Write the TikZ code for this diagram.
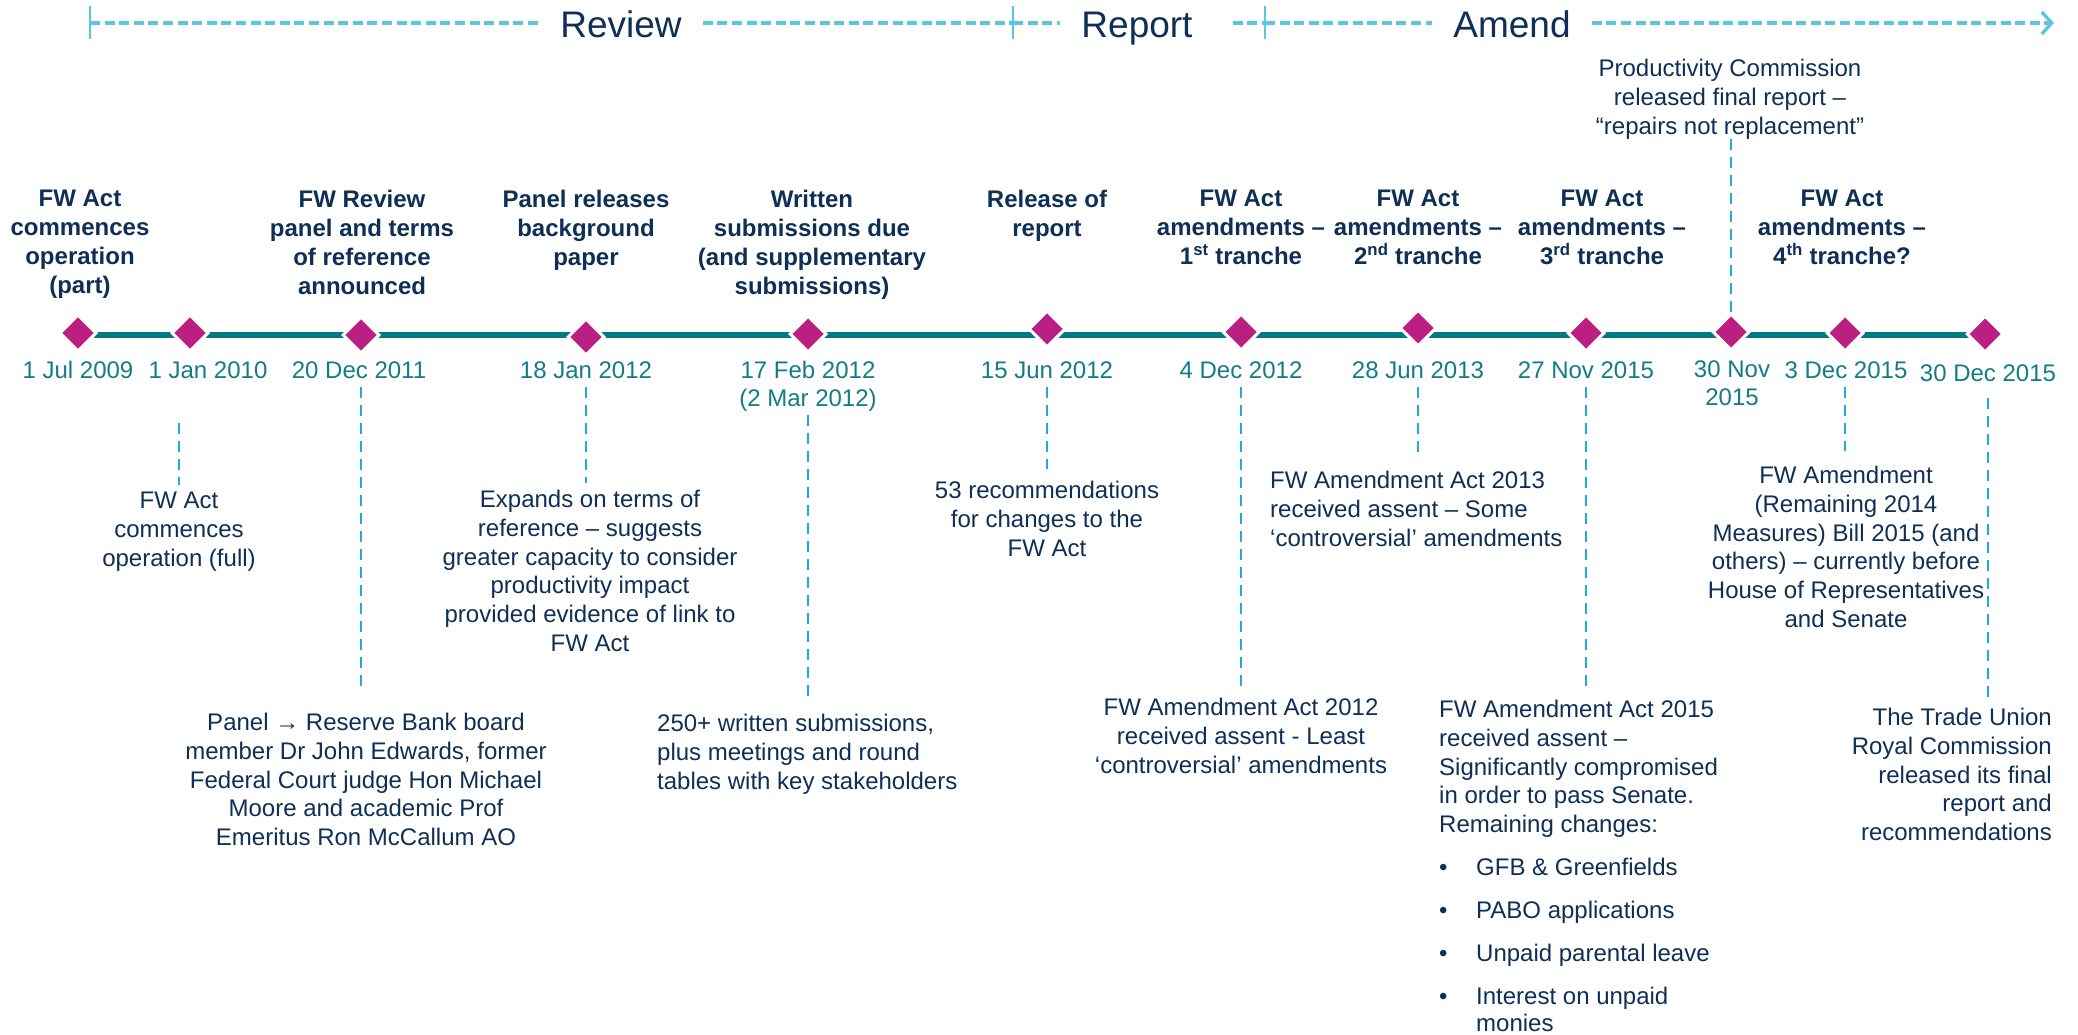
\documentclass[tikz,border=0pt]{standalone}
\usepackage{fontspec}
\setmainfont{Liberation Sans}
\usetikzlibrary{shapes.geometric,arrows.meta}
\definecolor{navy}{HTML}{0E2F56}
\definecolor{dateteal}{HTML}{137C87}
\definecolor{lineteal}{HTML}{007B84}
\definecolor{mag}{HTML}{BC1F82}
\definecolor{conncol}{HTML}{1FA9DC}
\definecolor{phasecol}{HTML}{5BC6E0}
\begin{document}
\begin{tikzpicture}[x=1pt,y=-1pt,
  body/.style={inner sep=0pt, text=navy, font=\fontsize{24pt}{28.8pt}\selectfont},
  head/.style={inner sep=0pt, text=navy, font=\fontsize{24pt}{29pt}\selectfont\bfseries, align=center, anchor=north},
  datelab/.style={inner sep=0pt, text=dateteal, font=\fontsize{24pt}{28pt}\selectfont, anchor=north, text height=17.5pt, text depth=5pt},
  datelabtwo/.style={inner sep=0pt, text=dateteal, font=\fontsize{24pt}{28pt}\selectfont, anchor=north, align=center},
  dia/.style={diamond, fill=mag, draw=white, line width=3pt, minimum width=37pt, minimum height=37pt, inner sep=0pt},
  tl/.style={draw=lineteal, line width=6pt},
  conn/.style={draw=conncol, line width=2.5pt, dash pattern=on 11pt off 7pt},
  phase/.style={draw=phasecol, line width=3.3pt, dash pattern=on 10pt off 4.6pt},
  phasetick/.style={draw=phasecol, line width=2.6pt},
  phaselab/.style={text=navy, font=\fontsize{37pt}{40pt}\selectfont, inner xsep=21pt, inner ysep=0pt, anchor=base},
]
\fill[white] (0,0) rectangle (2078,1035);
\useasboundingbox (0,0) rectangle (2078,1035);

% ---------- phase bar ----------
\coordinate (t1) at (90,23);
\coordinate (t2) at (1013,23);
\coordinate (t3) at (1265,23);
\coordinate (tend) at (2054,23);
\node[phaselab] (rev) at (621,38) {Review};
\node[phaselab] (rep) at (1137,38) {Report};
\node[phaselab] (ame) at (1512,38) {Amend};
\draw[phase] (t1) -- (t1 -| rev.west);
\draw[phase] (rev.east |- t1) -- (t2);
\draw[phase] (t2) -- (t2 -| rep.west);
\draw[phase, shorten <=19pt] (rep.east |- t2) -- (t3);
\draw[phase] (t3) -- (t3 -| ame.west);
\draw[phase, -{Straight Barb[length=10pt,width=22pt]}] (ame.east |- t3) -- (tend);
\draw[phasetick] ([yshift=17pt]t1) -- ([yshift=-16pt]t1);
\draw[phasetick] ([yshift=17pt]t2) -- ([yshift=-16pt]t2);
\draw[phasetick] ([yshift=17pt]t3) -- ([yshift=-16pt]t3);

% ---------- timeline ----------
\coordinate (p1) at (78,335);
\coordinate (p12) at (1985,335);
\draw[tl] (p1) -- (p12);
\node[dia] (D1) at (78,333) {};
\node[dia] (D2) at (190,333) {};
\node[dia] (D3) at (361,335) {};
\node[dia] (D4) at (586,337) {};
\node[dia] (D5) at (808,334) {};
\node[dia] (D6) at (1047,329) {};
\node[dia] (D7) at (1241,332) {};
\node[dia] (D8) at (1418,328) {};
\node[dia] (D9) at (1586,333) {};
\node[dia] (D10) at (1731,332) {};
\node[dia] (D11) at (1845,333) {};
\node[dia] (D12) at (1985,334) {};

% ---------- headings ----------
\node[head] (h1) at (80,190) {FW Act\\commences\\operation\\(part)};
\node[head] (h3) at (362,190) {FW Review\\panel and terms\\of reference\\announced};
\node[head] (h4) at (586,190) {Panel releases\\background\\paper};
\node[head] (h5) at (812,190) {Written\\submissions due\\(and supplementary\\submissions)};
\node[head] (h6) at (1047,190) {Release of\\report};
\node[head] (h7) at (1241,190) {FW Act\\amendments –\\1\textsuperscript{st} tranche};
\node[head] (h8) at (1418,190) {FW Act\\amendments –\\2\textsuperscript{nd} tranche};
\node[head] (h9) at (1602,190) {FW Act\\amendments –\\3\textsuperscript{rd} tranche};
\node[head] (h11) at (1842,190) {FW Act\\amendments –\\4\textsuperscript{th} tranche?};

% ---------- dates ----------
\node[datelab] (d1) at (78,361) {1 Jul 2009};
\node[datelab] (d2) at (208,361) {1 Jan 2010};
\node[datelab] (d3) at (359,361) {20 Dec 2011};
\node[datelab] (d4) at (586,361) {18 Jan 2012};
\node[datelabtwo] (d5) at (808,361) {17 Feb 2012\\(2 Mar 2012)};
\node[datelab] (d6) at (1047,361) {15 Jun 2012};
\node[datelab] (d7) at (1241,361) {4 Dec 2012};
\node[datelab] (d8) at (1418,361) {28 Jun 2013};
\node[datelab] (d9) at (1586,361) {27 Nov 2015};
\node[datelabtwo] (d10) at (1732,361) {30 Nov\\2015};
\node[datelab] (d11) at (1846,361) {3 Dec 2015};
\node[datelab] (d12) at (1988,364) {30 Dec 2015};

% ---------- descriptions ----------
\node[body, anchor=north, align=center] (desc2) at (179,492) {FW Act\\commences\\operation (full)};
\node[body, anchor=north, align=center] (desc3) at (366,713) {Panel → Reserve Bank board\\member Dr John Edwards, former\\Federal Court judge Hon Michael\\Moore and academic Prof\\Emeritus Ron McCallum AO};
\node[body, anchor=north, align=center] (desc4) at (590,490) {Expands on terms of\\reference – suggests\\greater capacity to consider\\productivity impact\\provided evidence of link to\\FW Act};
\node[body, anchor=north west, align=left] (desc5) at (657,714) {250+ written submissions,\\plus meetings and round\\tables with key stakeholders};
\node[body, anchor=north, align=center] (desc6) at (1047,481) {53 recommendations\\for changes to the\\FW Act};
\node[body, anchor=north, align=center] (desc7) at (1241,698) {FW Amendment Act 2012\\received assent - Least\\‘controversial’ amendments};
\node[body, anchor=north west, align=left] (desc8) at (1270,471) {FW Amendment Act 2013\\received assent – Some\\‘controversial’ amendments};
\node[body, anchor=north west, align=left] (desc9) at (1439,700) {FW Amendment Act 2015\\received assent –\\Significantly compromised\\in order to pass Senate.\\Remaining changes:\\[14.2pt]\makebox[37pt][l]{•}GFB \& Greenfields\\[14.2pt]\makebox[37pt][l]{•}PABO applications\\[14.2pt]\makebox[37pt][l]{•}Unpaid parental leave\\[14.2pt]\makebox[37pt][l]{•}Interest on unpaid\\[-1.8pt]\hspace*{37pt}monies};
\node[body, anchor=north, align=center] (prod) at (1730,59) {Productivity Commission\\released final report –\\“repairs not replacement”};
\node[body, anchor=north, align=center] (desc11) at (1846,466) {FW Amendment\\(Remaining 2014\\Measures) Bill 2015 (and\\others) – currently before\\House of Representatives\\and Senate};
\node[body, anchor=north east, align=right] (desc12) at (2052,708) {The Trade Union\\Royal Commission\\released its final\\report and\\recommendations};

% ---------- connectors ----------
\draw[conn, shorten <=39pt, shorten >=7pt] (desc2.north |- d2.south) -- (desc2.north);
\draw[conn, shorten <=3.5pt, shorten >=20pt] (D3 |- d3.south) -- (D3 |- desc3.north);
\draw[conn, shorten <=3.5pt, shorten >=7pt] (D4 |- d4.south) -- (D4 |- desc4.north);
\draw[conn, shorten <=3.5pt, shorten >=12pt] (D5 |- d5.south) -- (D5 |- desc5.north);
\draw[conn, shorten <=3.5pt, shorten >=12pt] (D6 |- d6.south) -- (D6 |- desc6.north);
\draw[conn, shorten <=3.5pt, shorten >=12pt] (D7 |- d7.south) -- (D7 |- desc7.north);
\draw[conn, shorten <=3.5pt, shorten >=17pt] (D8 |- d8.south) -- (D8 |- desc8.north);
\draw[conn, shorten <=3.5pt, shorten >=8pt] (D9 |- d9.south) -- (D9 |- desc9.north);
\draw[conn] (D10.north) -- (D10 |- prod.south);
\draw[conn, shorten <=3.5pt, shorten >=15pt] (D11 |- d11.south) -- (D11 |- desc11.north);
\draw[conn, shorten <=11.5pt, shorten >=6pt] (d12.south) -- (d12.south |- desc12.north);
\end{tikzpicture}
\end{document}
